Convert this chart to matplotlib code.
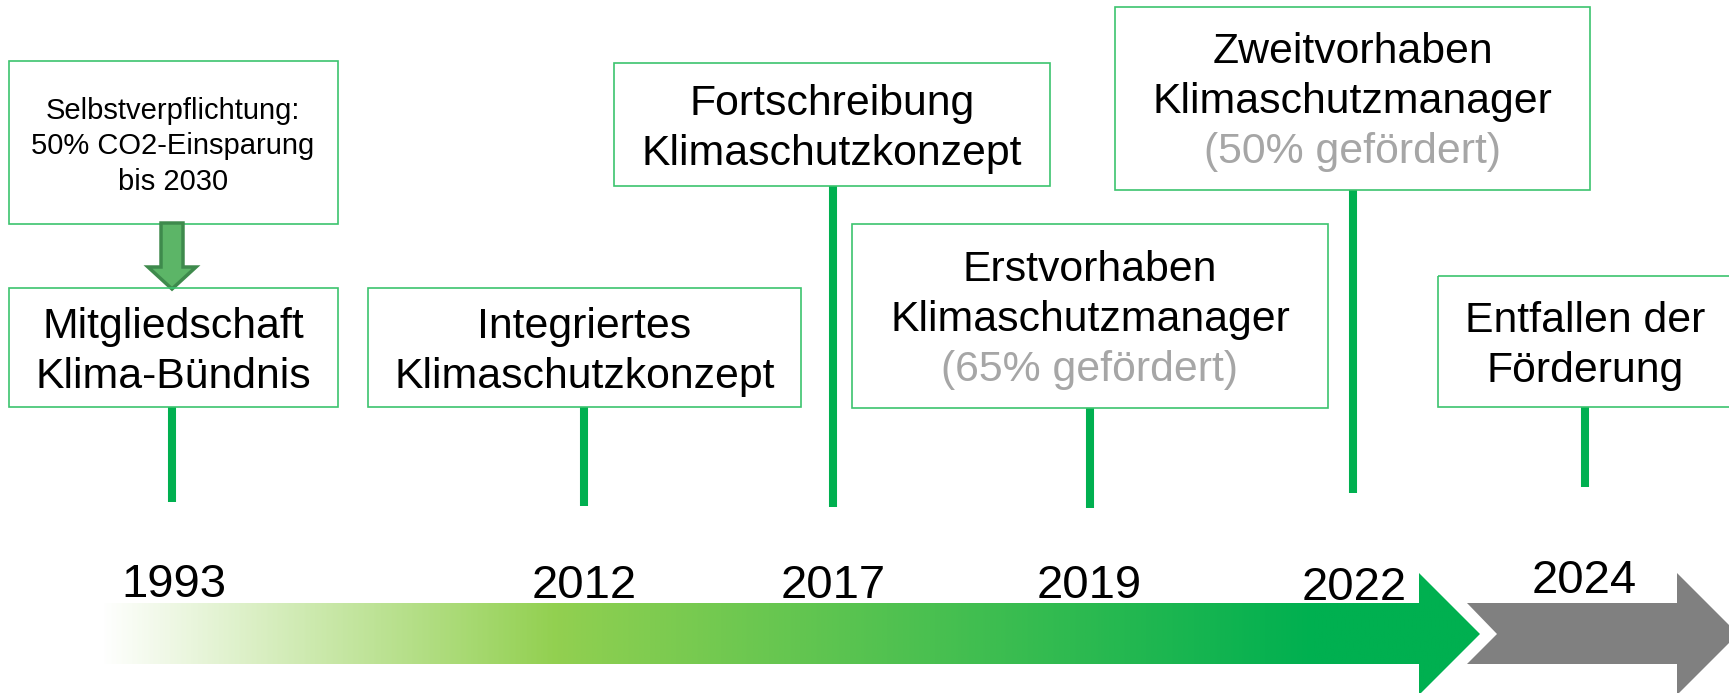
import numpy as np
import matplotlib
matplotlib.use("Agg")
import matplotlib.pyplot as plt
from matplotlib.patches import Rectangle, Polygon
from matplotlib.colors import LinearSegmentedColormap

plt.rcParams['font.family'] = ['Liberation Sans', 'DejaVu Sans']

# timeline data
years = ["1993", "2012", "2017", "2019", "2022", "2024"]
titles = [["Mitgliedschaft", "Klima-Bündnis"],
          ["Integriertes", "Klimaschutzkonzept"],
          ["Fortschreibung", "Klimaschutzkonzept"],
          ["Erstvorhaben", "Klimaschutzmanager"],
          ["Zweitvorhaben", "Klimaschutzmanager"],
          ["Entfallen der", "Förderung"]]
subtitles = ["", "", "", "(65% gefördert)", "(50% gefördert)", ""]
note = ["Selbstverpflichtung:", "50% CO2-Einsparung", "bis 2030"]

# layout (pixel coordinates of the slide)
W, H = 1729, 693
boxes = [(9, 288, 338, 407), (368, 288, 801, 407), (614, 63, 1050, 186),
         (852, 224, 1328, 408), (1115, 7, 1590, 190), (1438, 276, 1734, 407)]
first_base = [338, 338, 115, 281, 63, 332]
line_gap = 50
stem_x = [172, 584, 833, 1090, 1353, 1585]
stem_bottom = [502, 506, 507, 508, 493, 487]
year_x = [174, 584, 833, 1089, 1354, 1584]
year_base = [597, 598, 598, 598, 600, 593]

green = "#00B050"
box_edge = "#3cc46e"

fig = plt.figure(figsize=(W / 100, H / 100), dpi=100)
ax = fig.add_axes([0, 0, 1, 1])
ax.set_xlim(0, W)
ax.set_ylim(H, 0)
ax.axis("off")

# boxes, stems and labels
for i in range(len(years)):
    x0, y0, x1, y1 = boxes[i]
    ax.add_patch(Rectangle((x0, y0), x1 - x0, y1 - y0, fill=False,
                           ec=box_edge, lw=1.2, zorder=3))
    ax.plot([stem_x[i], stem_x[i]], [y1, stem_bottom[i]], color=green,
            lw=5.8, solid_capstyle="butt", zorder=2)
    cx = (x0 + x1) / 2 if x1 <= W else stem_x[i]
    lines = titles[i] + ([subtitles[i]] if subtitles[i] else [])
    for j, line in enumerate(lines):
        col = "#a6a6a6" if j == 2 else "black"
        ax.text(cx, first_base[i] + j * line_gap, line, fontsize=30.8,
                ha="center", va="baseline", color=col, zorder=4)
    ax.text(year_x[i], year_base[i], years[i], fontsize=34, ha="center",
            va="baseline", zorder=4)

# note box with block arrow
ax.add_patch(Rectangle((9, 61), 329, 163, fill=False, ec=box_edge, lw=1.2))
for j, line in enumerate(note):
    ax.text(173, 119 + j * 35.5, line, fontsize=21, ha="center", va="baseline")
down = Polygon([(161, 223), (183, 223), (183, 267), (196, 267), (172, 289),
                (148, 267), (161, 267)], closed=True, fc="#5cb567",
               ec="#3e8a4c", lw=2.5, joinstyle="miter")
ax.add_patch(down)

# gradient arrow
arrow = Polygon([(100, 603), (1419, 603), (1419, 573), (1480, 634), (1419, 695),
                 (1419, 664), (100, 664)], closed=True, fc="none", ec="none")
ax.add_patch(arrow)
cmap = LinearSegmentedColormap.from_list(
    "g", [(0, "#ffffff"), (0.33, "#92d050"), (0.88, "#00b050"), (1, "#00b050")])
grad = np.linspace(0, 1, 512).reshape(1, -1)
im = ax.imshow(grad, cmap=cmap, extent=(100, 1480, 695, 573), aspect="auto",
               interpolation="bilinear", zorder=1)
im.set_clip_path(arrow)

# grey arrow
ax.add_patch(Polygon([(1467, 603), (1677, 603), (1677, 573), (1738, 634),
                      (1677, 695), (1677, 664), (1467, 664), (1497, 634)],
                     closed=True, fc="#808080", ec="none", zorder=1))

ax.set_xlim(0, W)
ax.set_ylim(H, 0)
fig.savefig("out.png", dpi=100)
